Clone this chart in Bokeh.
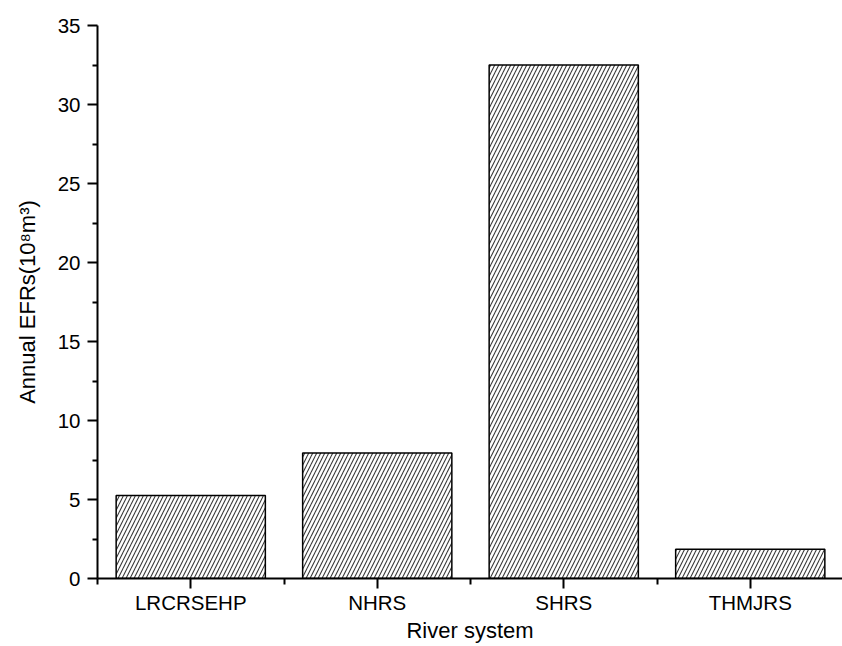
from bokeh.plotting import figure
from bokeh.models import Range1d, FixedTicker
from bokeh.embed import file_html
from bokeh.resources import INLINE

categories = ["LRCRSEHP", "NHRS", "SHRS", "THMJRS"]
values = [5.25, 7.95, 32.5, 1.85]
y_ticks = [0, 5, 10, 15, 20, 25, 30, 35]
y_minor = [2.5, 7.5, 12.5, 17.5, 22.5, 27.5, 32.5]
x_label = "River system"
y_label = "Annual EFRs(10\u2078m\u00b3)"

xs = list(range(1, len(categories) + 1))
x_minor = [x - 0.5 for x in xs] + [xs[-1] + 0.5]

W, H = 842, 646
LEFT, TOP, BOTTOM = 97, 25, 68
cat_px = 186.5
x_end = 0.5 + (W - LEFT) / cat_px

p = figure(width=W, height=H, output_backend="svg", toolbar_location=None,
           x_range=Range1d(0.5, x_end), y_range=Range1d(0, 35),
           min_border_left=LEFT, min_border_right=0, min_border_top=TOP,
           min_border_bottom=BOTTOM)
p.background_fill_color = "white"
p.border_fill_color = "white"
p.outline_line_color = None
p.grid.visible = False

p.vbar(x=xs, top=values, width=0.8, fill_color="white", line_color="black",
       line_width=1.5, hatch_pattern="/", hatch_scale=8, hatch_weight=1.1,
       hatch_color="#3a3a3a")

font = "Liberation Sans"
for ax in (p.xaxis[0], p.yaxis[0]):
    ax.axis_line_width = 2
    ax.major_tick_line_width = 2
    ax.minor_tick_line_width = 2
    ax.major_tick_in = 0
    ax.minor_tick_in = 0
    ax.major_label_text_font = font
    ax.major_label_text_font_size = "20.5px"
    ax.major_label_text_color = "black"
    ax.axis_label_text_font = font
    ax.axis_label_text_font_size = "22px"
    ax.axis_label_text_font_style = "normal"
    ax.axis_label_text_color = "black"

p.xaxis.ticker = FixedTicker(ticks=xs, minor_ticks=x_minor)
p.xaxis.major_label_overrides = {x: c for x, c in zip(xs, categories)}
p.xaxis.major_tick_out = 10
p.xaxis.minor_tick_out = 6
p.xaxis.major_label_standoff = 2
p.xaxis.axis_label = x_label
p.xaxis.axis_label_standoff = 1

p.yaxis.ticker = FixedTicker(ticks=y_ticks, minor_ticks=y_minor)
p.yaxis.major_tick_out = 10
p.yaxis.minor_tick_out = 5
p.yaxis.major_label_standoff = 7
p.yaxis.axis_label = y_label
p.yaxis.axis_label_standoff = 15

open("out.html", "w").write(file_html(p, INLINE))
